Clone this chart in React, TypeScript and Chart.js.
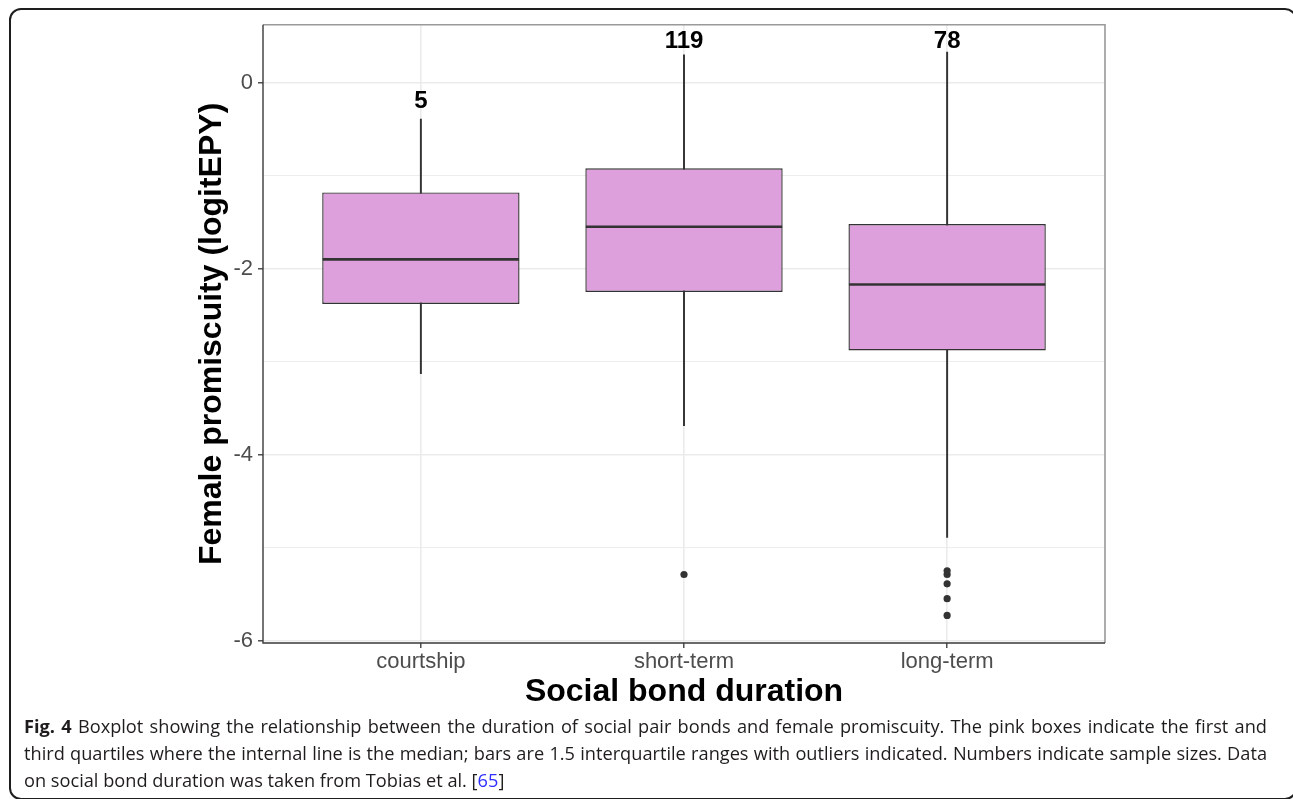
import React, { useEffect, useRef } from 'react';
import { Chart, registerables } from 'chart.js';

Chart.register(...registerables);

// ---- data ----
const categories = ['courtship', 'short-term', 'long-term'];
const sampleSizes = ['5', '119', '78'];
const sampleLabelY = [-0.2, 0.44, 0.44];
const whiskerLow = [-3.13, -3.69, -4.89];
const quartile1 = [-2.38, -2.25, -2.88];
const medians = [-1.9, -1.55, -2.17];
const quartile3 = [-1.18, -0.92, -1.52];
const whiskerHigh = [-0.39, 0.3, 0.33];
const outlierCategory = [2, 3, 3, 3, 3, 3];
const outlierValue = [-5.29, -5.25, -5.29, -5.39, -5.55, -5.73];
const yTickValues = [-6, -5, -4, -3, -2, -1, 0];
const yMin = -6.027;
const yMax = 0.624;
const xMin = 0.4;
const xMax = 3.6;

const FONT = '"Liberation Sans", Arial, Helvetica, sans-serif';
const INK = '#333333';

const CANVAS_W = 1293;
const CANVAS_H = 720;

const boxExtras = {
  id: 'boxExtras',
  afterDatasetsDraw(chart: any) {
    const { ctx, chartArea } = chart;
    const xs = chart.scales.x;
    const ys = chart.scales.y;
    const meta = chart.getDatasetMeta(0);
    ctx.save();
    // medians
    ctx.strokeStyle = INK;
    ctx.lineWidth = 2.6;
    meta.data.forEach((el: any, i: number) => {
      const y = ys.getPixelForValue(medians[i]);
      ctx.beginPath();
      ctx.moveTo(el.x - el.width / 2 + 0.5, y);
      ctx.lineTo(el.x + el.width / 2 - 0.5, y);
      ctx.stroke();
    });
    // sample sizes
    ctx.fillStyle = '#000';
    ctx.font = `bold 24px ${FONT}`;
    ctx.textAlign = 'center';
    ctx.textBaseline = 'middle';
    sampleSizes.forEach((t, i) => {
      ctx.fillText(t, xs.getPixelForValue(i + 1), ys.getPixelForValue(sampleLabelY[i]));
    });
    // panel border
    const { left, right, top, bottom } = chartArea;
    ctx.lineWidth = 1.6;
    ctx.strokeStyle = '#9a9a9a';
    ctx.beginPath();
    ctx.moveTo(left, top);
    ctx.lineTo(right, top);
    ctx.lineTo(right, bottom);
    ctx.stroke();
    ctx.strokeStyle = '#3a3a3a';
    ctx.lineWidth = 1.4;
    ctx.beginPath();
    ctx.moveTo(left, top);
    ctx.lineTo(left, bottom);
    ctx.lineTo(right, bottom);
    ctx.stroke();
    ctx.restore();
  },
};

function BoxChart() {
  const ref = useRef<HTMLCanvasElement | null>(null);
  useEffect(() => {
    if (!ref.current) return;
    const idx = categories.map((_, i) => i + 1);
    const chart = new Chart(ref.current, {
      type: 'bar',
      data: {
        datasets: [
          {
            type: 'bar',
            label: 'box',
            data: idx.map((x, i) => ({ x, y: [quartile1[i], quartile3[i]] })) as any,
            backgroundColor: '#DDA0DD',
            borderColor: INK,
            borderWidth: 1.4,
            borderSkipped: false,
            grouped: false,
            barPercentage: 0.75,
            categoryPercentage: 1,
            order: 1,
          } as any,
          {
            type: 'bar',
            label: 'whisker',
            data: idx.map((x, i) => ({ x, y: [whiskerLow[i], whiskerHigh[i]] })) as any,
            backgroundColor: INK,
            borderWidth: 0,
            grouped: false,
            maxBarThickness: 1.3,
            barPercentage: 1,
            categoryPercentage: 1,
            order: 2,
          } as any,
          {
            type: 'scatter',
            label: 'outliers',
            data: outlierCategory.map((c, i) => ({ x: c, y: outlierValue[i] })),
            backgroundColor: INK,
            borderWidth: 0,
            pointRadius: 3.6,
            showLine: false,
            order: 0,
          } as any,
        ],
      },
      options: {
        responsive: false,
        animation: false,
        devicePixelRatio: 1,
        layout: { padding: { left: 0, top: 24.7, right: CANVAS_W - 1105, bottom: 0 } },
        plugins: { legend: { display: false }, tooltip: { enabled: false } },
        scales: {
          x: {
            type: 'linear',
            min: xMin,
            max: xMax,
            offset: false,
            afterBuildTicks: (s: any) => {
              s.ticks = categories.map((_, i) => ({ value: i + 1 }));
            },
            afterFit: (s: any) => {
              s.height = CANVAS_H - 643;
            },
            grid: {
              offset: false,
              color: '#EBEBEB',
              lineWidth: 1.6,
              drawTicks: true,
              tickLength: 5,
              tickColor: INK,
              tickWidth: 1.3,
            },
            border: { display: false },
            ticks: {
              autoSkip: false,
              maxRotation: 0,
              padding: 1,
              color: '#4D4D4D',
              font: { family: FONT, size: 22 },
              callback: (v: any) => categories[Math.round(Number(v)) - 1] ?? '',
            },
            title: {
              display: true,
              text: 'Social bond duration',
              color: '#000',
              font: { family: FONT, size: 32, weight: 'bold' },
              padding: { top: 0, bottom: 8.8 },
            },
          },
          y: {
            type: 'linear',
            min: yMin,
            max: yMax,
            afterBuildTicks: (s: any) => {
              s.ticks = yTickValues.map((v) => ({ value: v }));
            },
            afterFit: (s: any) => {
              s.width = 263;
            },
            grid: {
              color: '#EBEBEB',
              lineWidth: (c: any) => (c.tick && Math.abs(c.tick.value % 2) === 0 ? 1.6 : 0.9),
              drawTicks: true,
              tickLength: 5,
              tickColor: (c: any) =>
                c.tick && Math.abs(c.tick.value % 2) === 0 ? INK : 'rgba(0,0,0,0)',
              tickWidth: 1.3,
            },
            border: { display: false },
            ticks: {
              padding: 5,
              color: '#4D4D4D',
              font: { family: FONT, size: 22 },
              callback: (v: any) => (Math.abs(Number(v) % 2) === 0 ? String(v) : ''),
            },
            title: {
              display: true,
              text: 'Female promiscuity (logitEPY)',
              color: '#000',
              font: { family: FONT, size: 32, weight: 'bold' },
              padding: { top: 192.8, bottom: 0 },
            },
          },
        },
      } as any,
      plugins: [boxExtras],
    });
    return () => chart.destroy();
  }, []);
  return (
    <canvas
      ref={ref}
      width={CANVAS_W}
      height={CANVAS_H}
      style={{ position: 'absolute', left: 0, top: 0, width: CANVAS_W, height: CANVAS_H }}
    />
  );
}

const lineStyle: React.CSSProperties = {
  textAlign: 'justify',
  textAlignLast: 'justify' as any,
  height: 27,
};

export default function App() {
  return (
    <div
      style={{
        position: 'absolute',
        left: 0,
        top: 0,
        width: 1293,
        height: 799,
        overflow: 'hidden',
        background: '#fff',
      }}
    >
      <div
        style={{
          position: 'absolute',
          left: 9,
          top: 8,
          width: 1288,
          height: 792,
          border: '2px solid #1e1e1e',
          borderRadius: 12,
          boxSizing: 'border-box',
        }}
      />
      <BoxChart />
      <div
        style={{
          position: 'absolute',
          left: 24,
          top: 713,
          width: 1243,
          fontFamily: '"Open Sans", "Noto Sans", sans-serif',
          fontSize: 18.2,
          lineHeight: '27px',
          color: '#1f1c1d',
        }}
      >
        <div style={lineStyle}>
          <b>Fig. 4</b> Boxplot showing the relationship between the duration of social pair bonds and female promiscuity. The pink boxes indicate the first and
        </div>
        <div style={lineStyle}>
          third quartiles where the internal line is the median; bars are 1.5 interquartile ranges with outliers indicated. Numbers indicate sample sizes. Data
        </div>
        <div style={{ height: 27 }}>
          on social bond duration was taken from Tobias et al. [<span style={{ color: '#2e2eff' }}>65</span>]
        </div>
      </div>
    </div>
  );
}
